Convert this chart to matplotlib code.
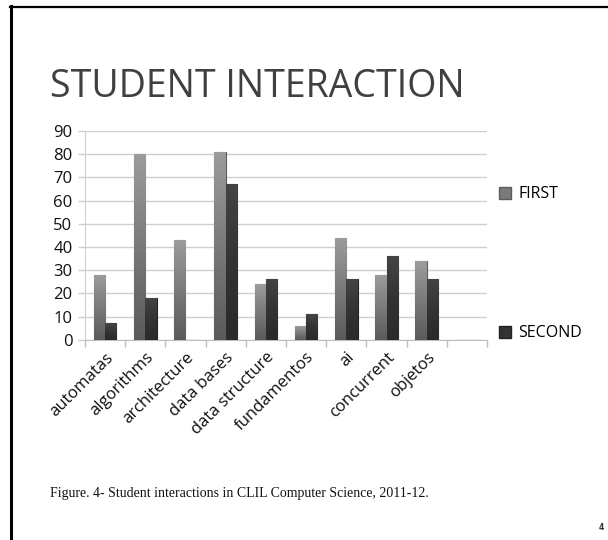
import numpy as np
import matplotlib
matplotlib.use("Agg")
import matplotlib.pyplot as plt
from matplotlib.lines import Line2D
from matplotlib.patches import Patch
from matplotlib.colors import LinearSegmentedColormap

categories = ["automatas", "algorithms", "architecture", "data bases", "data structure",
              "fundamentos", "ai", "concurrent", "objetos", ""]
first = [28, 80, 43, 81, 24, 6, 44, 28, 34, 0]
second = [7, 18, 0, 67, 26, 11, 26, 36, 26, 0]
yticks = [0, 10, 20, 30, 40, 50, 60, 70, 80, 90]

fig = plt.figure(figsize=(6.08, 5.40), dpi=100)
fig.patch.set_facecolor("white")

ax = fig.add_axes([85/608, 1-339.7/540, (487-85)/608, (339.7-131)/540])
x = np.arange(len(categories))
w = 0.28

cm_first = LinearSegmentedColormap.from_list("f", ["#5a5a5a", "#7a7a7a", "#9c9c9c"])
cm_second = LinearSegmentedColormap.from_list("s", ["#2a2a2a", "#333333", "#444444"])

b1 = ax.bar(x - w/2, first, w, color="#7a7a7a", edgecolor="#5c5c5c", linewidth=0.8, zorder=3)
b2 = ax.bar(x + w/2, second, w, color="#333333", edgecolor="#222222", linewidth=0.8, zorder=3)

grad = np.linspace(0, 1, 256).reshape(-1, 1)
for bars, cm in ((b1, cm_first), (b2, cm_second)):
    for r in bars:
        h = r.get_height()
        if h <= 0:
            continue
        x0 = r.get_x(); x1 = x0 + r.get_width()
        im = ax.imshow(grad, cmap=cm, origin="lower", aspect="auto",
                       extent=(x0, x1, 0, h), zorder=3.5)
        im.set_clip_path(r)

ax.set_xlim(-0.5, len(categories) - 0.5)
ax.set_ylim(0, 90)
ax.set_yticks(yticks)
ax.set_yticklabels([str(v) for v in yticks], fontsize=12, family="Open Sans", color="#111111")
ax.yaxis.grid(True, color="#cfcfcf", linewidth=1.0, zorder=0)
ax.set_axisbelow(True)

ax.set_xticks(np.arange(len(categories) + 1) - 0.5, minor=False)
ax.set_xticklabels([])
ax.set_xticks(x, minor=True)
ax.set_xticklabels(categories, minor=True, rotation=45, ha="right", va="top",
                   rotation_mode="anchor", fontsize=12, family="Open Sans", color="#111111")
ax.tick_params(axis="x", which="minor", length=0, pad=7)
ax.tick_params(axis="x", which="major", length=5, color="#bfbfbf", width=1)
ax.tick_params(axis="y", length=5, color="#cfcfcf", width=1, pad=4)

for s in ("top", "right"):
    ax.spines[s].set_visible(False)
ax.spines["left"].set_color("#d0d0d0")
ax.spines["bottom"].set_color("#bfbfbf")

handles = [Patch(facecolor="#7a7a7a", edgecolor="#5c5c5c"),
           Patch(facecolor="#333333", edgecolor="#222222")]
fig.legend(handles, ["FIRST", "SECOND"], loc="upper left",
           bbox_to_anchor=(485/608, 1-172/540), frameon=False,
           prop={"family": "Open Sans", "size": 11.5}, labelspacing=7.7,
           handlelength=0.75, handleheight=0.75, handletextpad=0.45)

fig.text(50/608, 1-97/540, "STUDENT INTERACTION", fontsize=27, family="Open Sans",
         color="#404040", ha="left", va="baseline")
fig.text(50/608, 1-497/540, "Figure. 4- Student interactions in CLIL Computer Science, 2011-12.",
         fontsize=10, family="Liberation Serif", color="#111111", ha="left", va="baseline")
fig.text(601/608, 1-530/540, "4", fontsize=5.5, family="DejaVu Sans", weight="bold",
         color="#333333", ha="center", va="baseline")

fig.add_artist(Line2D([11/608, 11/608], [0, 1-6/540], transform=fig.transFigure,
                      color="black", linewidth=2.2))
fig.add_artist(Line2D([10/608, 1], [1-6.5/540, 1-6.5/540], transform=fig.transFigure,
                      color="black", linewidth=1.6))

fig.savefig("out.png", dpi=100)
